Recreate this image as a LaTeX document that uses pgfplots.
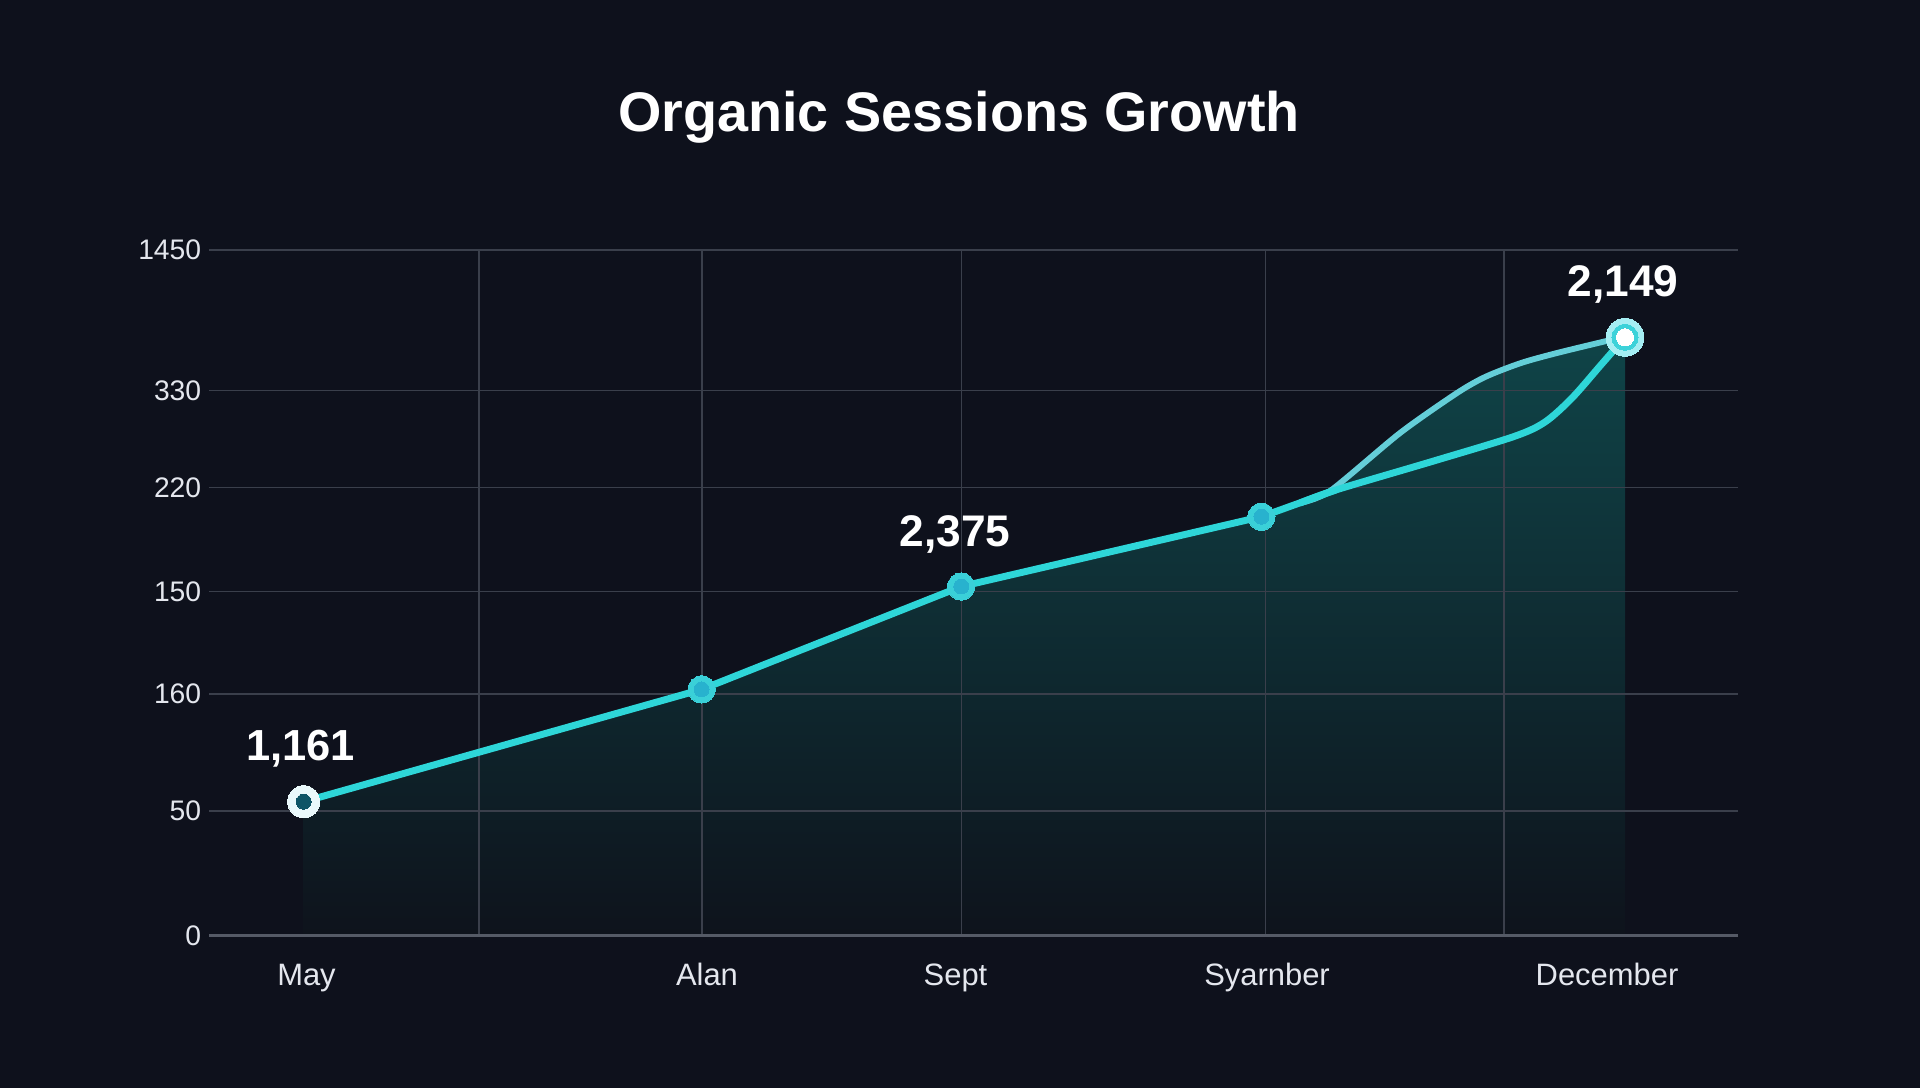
\documentclass[border=0pt]{standalone}
\usepackage{fontspec}
\setmainfont{Liberation Sans}
\usepackage{pgfplots}
\pgfplotsset{compat=1.18}
\definecolor{bg}{RGB}{14,17,28}
\definecolor{gridc}{RGB}{58,63,75}
\definecolor{axisc}{RGB}{85,90,102}
\definecolor{linec}{RGB}{46,214,216}
\definecolor{upperc}{RGB}{100,206,216}
\definecolor{filltop}{RGB}{15,68,72}
\definecolor{fillbot}{RGB}{14,19,28}
\definecolor{mkout}{RGB}{58,208,216}
\definecolor{mkin}{RGB}{40,178,206}
\definecolor{mayout}{RGB}{234,249,251}
\definecolor{mayin}{RGB}{14,85,102}
\definecolor{decout}{RGB}{165,238,243}
\definecolor{decmid}{RGB}{60,210,217}
\definecolor{labc}{RGB}{228,231,238}
\begin{document}
\begin{tikzpicture}
\begin{axis}[
  set layers,
  x=0.375pt, y=0.375pt,
  xmin=209.3, xmax=1737.5, ymin=152.5, ymax=838,
  clip=false,
  axis line style={draw=none},
  major tick length=0pt,
  xtick={306.5,707,955.5,1267,1607},
  xticklabels={May,Alan,Sept,Syarnber,December},
  xticklabel style={anchor=base, yshift=-18.6pt, inner sep=0pt, text=labc, font=\fontsize{11.6}{14}\selectfont},
  extra x ticks={479,702,961.5,1265.5,1504},
  extra x tick labels={},
  extra x tick style={xmajorgrids=true},
  ytick={152.5,277.1,393.9,496.7,600.6,697.4,838},
  yticklabels={0,50,160,150,220,330,1450},
  ymajorgrids=true,
  yticklabel style={anchor=east, xshift=-2.85pt, inner sep=0pt, text=labc, font=\fontsize{10.6}{13}\selectfont},
  major grid style={draw=gridc, line width=0.55pt},
  extra y ticks={152.5},
  extra y tick labels={},
  extra y tick style={ymajorgrids=true, major grid style={draw=axisc, line width=1pt}},
  /pgf/number format/assume math mode=true,
]
\coordinate (BL) at (axis cs:0,0);
\coordinate (TR) at (axis cs:1920,1088);
\begin{pgfonlayer}{axis background}
\fill[bg] (axis cs:0,0) rectangle (axis cs:1920,1088);
\end{pgfonlayer}
% area fill
\addplot[on layer=axis background, draw=none, top color=filltop, bottom color=fillbot] coordinates {
 (303.7,152.5) (303.7,286.3) (701.6,398.6) (961.2,501.5) (1261.4,571.3) (1330,597)
 (1370,630) (1400,655) (1430,676) (1457,695) (1485.7,711.3) (1521,725) (1557,735) (1590,743) (1610.7,748) (1625,750.7)
 (1625,152.5)} -- cycle;
% upper branch
\addplot[upperc, line width=2.2pt, smooth, tension=0.45] coordinates {
 (1300,585) (1330,597) (1400,655) (1457,695) (1485.7,711.3) (1521,725) (1557,735) (1610.7,748) (1625,750.7)};
% main line
\addplot[linec, line width=2.6pt] coordinates {
 (303.7,286.3) (701.6,398.6) (961.2,501.5) (1261.4,571.3) (1335.7,598)};
\addplot[linec, line width=2.6pt, smooth, tension=0.5] coordinates {
 (1300,585) (1335.7,598) (1432,626.5) (1514,651.5) (1545,666) (1572,690) (1600,722) (1625,750.7)};
% markers
\addplot[only marks, mkout, mark=*, mark size=5.1pt, mark options={fill=mkout, draw=mkout, line width=0pt}] coordinates {(701.6,398.6) (961.2,501.5) (1261.4,571.3)};
\addplot[only marks, mkin, mark=*, mark size=2.8pt, mark options={fill=mkin, draw=mkin, line width=0pt}] coordinates {(701.6,398.6) (961.2,501.5) (1261.4,571.3)};
\addplot[only marks, mayout, mark=*, mark size=6pt, mark options={fill=mayout, draw=mayout, line width=0pt}] coordinates {(303.7,286.3)};
\addplot[only marks, mayin, mark=*, mark size=2.8pt, mark options={fill=mayin, draw=mayin, line width=0pt}] coordinates {(303.7,286.3)};
\addplot[only marks, decout, mark=*, mark size=7.1pt, mark options={fill=decout, draw=decout, line width=0pt}] coordinates {(1625,750.7)};
\addplot[only marks, decmid, mark=*, mark size=4.9pt, mark options={fill=decmid, draw=decmid, line width=0pt}] coordinates {(1625,750.7)};
\addplot[only marks, white, mark=*, mark size=3.2pt, mark options={fill=white, draw=white, line width=0pt}] coordinates {(1625,750.7)};
% labels
\node[anchor=base, inner sep=0pt, text=white, font=\bfseries\fontsize{16.3}{20}\selectfont] at (axis cs:300.5,327.5) {1,161};
\node[anchor=base, inner sep=0pt, text=white, font=\bfseries\fontsize{16.6}{20}\selectfont] at (axis cs:955,541.3) {2,375};
\node[anchor=base, inner sep=0pt, text=white, font=\bfseries\fontsize{16.6}{20}\selectfont] at (axis cs:1623,791.3) {2,149};
\node[anchor=base, inner sep=0pt, text=white, font=\bfseries\fontsize{20.9}{25}\selectfont] at (axis cs:959,956.3) {Organic Sessions Growth};
\end{axis}
\pgfresetboundingbox
\useasboundingbox (BL) rectangle (TR);
\end{tikzpicture}
\end{document}
